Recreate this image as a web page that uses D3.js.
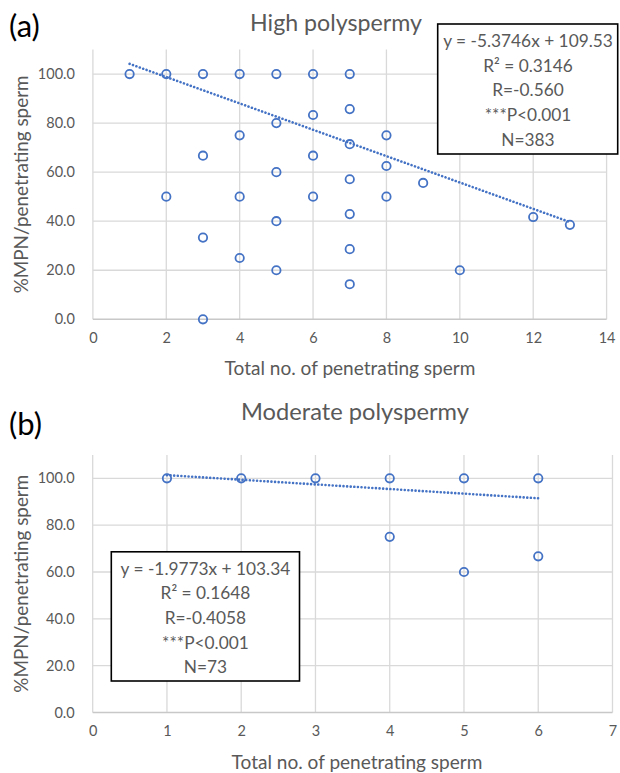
<!DOCTYPE html>
<html><head><meta charset="utf-8">
<script src="https://cdn.jsdelivr.net/npm/d3@7"></script>
<style>body{margin:0;background:#fff}svg{display:block}text{font-family:Lato,"Noto Sans",sans-serif}</style>
</head><body>
<script>
// ---------- data ----------
const highX = [1,2,3,4,5,6,7, 7,6,5,7,4,3,6,5,7,2,4,6,7,5,3,7,4,5,7,3, 8,8,8,9,12,13,10];
const highY = [100,100,100,100,100,100,100, 85.7,83.3,80,71.4,75,66.7,66.7,60,57.1,50,50,50,42.9,40,33.3,28.6,25,20,14.3,0, 75,62.5,50,55.6,41.7,38.5,20];
const highXTicks = [0,2,4,6,8,10,12,14];
const highTrend = {slope:-5.3746, intercept:109.53, from:1, to:13};
const highStats = ["y = -5.3746x + 109.53","R\u00B2 = 0.3146","R=-0.560","***P<0.001","N=383"];

const modX = [1,2,3,4,5,6,4,5,6];
const modY = [100,100,100,100,100,100,75,60,66.7];
const modXTicks = [0,1,2,3,4,5,6,7];
const modTrend = {slope:-1.9773, intercept:103.34, from:1, to:6};
const modStats = ["y = -1.9773x + 103.34","R\u00B2 = 0.1648","R=-0.4058","***P<0.001","N=73"];

const yTicks = [0,20,40,60,80,100];
const yTitle = "%MPN/penetrating sperm";
const xTitle = "Total no. of penetrating sperm";

// ---------- drawing ----------
const svg = d3.select("body").append("svg").attr("width",620).attr("height",773);
const blue = "#4472C4", grid = "#d9d9d9", txt = "#595959";

function fit(sel, width, base){
  sel.attr("font-size", base);
  const w = sel.node().getComputedTextLength();
  sel.attr("font-size", base*width/w);
  return sel;
}

function panel(c){
  const g = svg.append("g");
  const x = d3.scaleLinear().domain([c.xTicks[0], c.xTicks[c.xTicks.length-1]]).range([c.left, c.right]);
  const y = d3.scaleLinear().domain([0,110]).range([c.bottom, c.top]);
  // gridlines
  g.selectAll(".vg").data(c.xTicks).join("line")
    .attr("x1",d=>x(d)).attr("x2",d=>x(d)).attr("y1",c.top).attr("y2",c.bottom)
    .attr("stroke",grid).attr("stroke-width",1.3);
  g.selectAll(".hg").data(yTicks).join("line")
    .attr("x1",c.left).attr("x2",c.right).attr("y1",d=>y(d)).attr("y2",d=>y(d))
    .attr("stroke",d=>d===0?"#c8c8c8":grid).attr("stroke-width",d=>d===0?1.6:1.3);
  // axes via d3 (labels only)
  const xa = g.append("g").attr("transform",`translate(0,${c.bottom})`)
    .call(d3.axisBottom(x).tickValues(c.xTicks).tickSize(0).tickPadding(c.xPad).tickFormat(d3.format("d")));
  xa.select(".domain").remove();
  xa.selectAll("text").attr("fill",txt).attr("font-size",c.tickFont).attr("font-family","Lato");
  const ya = g.append("g").attr("transform",`translate(${c.left},0)`)
    .call(d3.axisLeft(y).tickValues(yTicks).tickSize(0).tickPadding(c.yPad).tickFormat(d3.format(".1f")));
  ya.select(".domain").remove();
  ya.selectAll("text").attr("fill",txt).attr("font-size",c.tickFont).attr("font-family","Lato");
  // trend
  const t = c.trend;
  g.append("line")
    .attr("x1",x(t.from)).attr("y1",y(t.slope*t.from+t.intercept))
    .attr("x2",x(t.to)).attr("y2",y(t.slope*t.to+t.intercept))
    .attr("stroke",blue).attr("stroke-width",2.6).attr("stroke-linecap","round")
    .attr("stroke-dasharray","0.01,3.6");
  // points
  g.selectAll(".pt").data(c.xs.map((d,i)=>[d,c.ys[i]])).join("circle")
    .attr("cx",d=>x(d[0])).attr("cy",d=>y(d[1])).attr("r",4.2)
    .attr("fill","none").attr("stroke",blue).attr("stroke-width",1.8);
  // titles
  fit(g.append("text").text(c.title).attr("x",c.titleX).attr("y",c.titleY)
    .attr("text-anchor","middle").attr("fill",txt), c.titleW, 20);
  g.append("text").text(c.label).attr("x",c.labelX).attr("y",c.labelY)
    .attr("font-size",31).attr("fill","#000").attr("font-family","Liberation Sans");
  fit(g.append("text").text(xTitle).attr("x",c.xTitleX).attr("y",c.xTitleY)
    .attr("text-anchor","middle").attr("dominant-baseline","central").attr("fill",txt), 251, 16);
  fit(g.append("text").text(yTitle)
    .attr("transform",`translate(${c.yTitleX},${(c.top+c.bottom)/2+ c.yTitleDy}) rotate(-90)`)
    .attr("text-anchor","middle").attr("dominant-baseline","central").attr("fill",txt), 218, 16);
  // stats box
  const b = c.box;
  g.append("rect").attr("x",b.x).attr("y",b.y).attr("width",b.w).attr("height",b.h)
    .attr("fill","#fff").attr("stroke","#000").attr("stroke-width",1.6);
  g.selectAll(".st").data(c.stats).join("text")
    .text(d=>d).attr("x",b.cx).attr("y",(d,i)=>b.ly0 + i*b.dy)
    .attr("text-anchor","middle").attr("dominant-baseline","central").attr("fill",txt)
    .attr("font-size",b.font);
}

panel({xs:highX, ys:highY, xTicks:highXTicks, trend:highTrend, stats:highStats,
  left:92.9, right:606.6, top:49.5, bottom:319.3, xPad:13, yPad:18, tickFont:14.5,
  title:"High polyspermy", titleX:336, titleY:31, titleW:172,
  label:"(a)", labelX:9, labelY:37,
  xTitleX:350, xTitleY:367, yTitleX:20, yTitleDy:0,
  box:{x:437.7, y:24, w:180, h:130, cx:528, ly0:40.7, dy:24.6, font:17.3}});

panel({xs:modX, ys:modY, xTicks:modXTicks, trend:modTrend, stats:modStats,
  left:92.7, right:612.5, top:454.9, bottom:712.5, xPad:13, yPad:18, tickFont:14.5,
  title:"Moderate polyspermy", titleX:355, titleY:420, titleW:228,
  label:"(b)", labelX:9, labelY:435,
  xTitleX:357, xTitleY:761, yTitleX:20, yTitleDy:0,
  box:{x:111.3, y:551.8, w:188.2, h:129.2, cx:205.4, ly0:568.3, dy:24.6, font:17.3}});
</script>
</body></html>
